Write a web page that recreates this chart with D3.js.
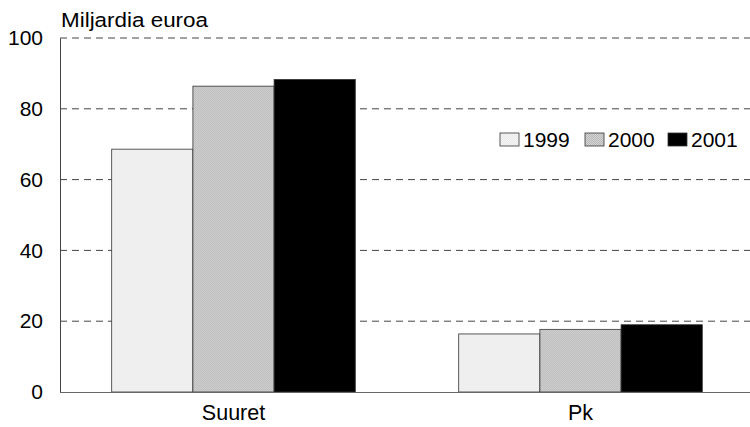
<!DOCTYPE html>
<html>
<head>
<meta charset="utf-8">
<script src="https://cdn.jsdelivr.net/npm/d3@7"></script>
<style>
  body { margin: 0; background: #fff; }
  svg { display: block; font-family: "Liberation Sans", Arial, sans-serif; }
</style>
</head>
<body>
<div id="chart"></div>
<script>
// Data
const groups = ["Suuret", "Pk"];
const years = ["1999", "2000", "2001"];
const values1999 = [68.6, 16.4];
const values2000 = [86.4, 17.7];
const values2001 = [88.3, 19.0];
const yTicks = [0, 20, 40, 60, 80, 100];
const unitLabel = "Miljardia euroa";

const seriesValues = [values1999, values2000, values2001];
const data = groups.map((g, i) => ({
  group: g,
  values: years.map((yr, j) => ({ year: yr, value: seriesValues[j][i] }))
}));

const width = 750, height = 427;
const margin = { top: 38, right: 0, bottom: 35, left: 60 };

const svg = d3.select("#chart")
  .append("svg")
  .attr("width", width)
  .attr("height", height);

// fill patterns for the textured bars
const defs = svg.append("defs");
function dotPattern(id, a, b) {
  const p = defs.append("pattern")
    .attr("id", id)
    .attr("width", 2)
    .attr("height", 2)
    .attr("patternUnits", "userSpaceOnUse");
  p.append("rect").attr("width", 2).attr("height", 2).attr("fill", a);
  p.append("rect").attr("width", 1).attr("height", 1).attr("fill", b);
  p.append("rect").attr("x", 1).attr("y", 1).attr("width", 1).attr("height", 1).attr("fill", b);
}
dotPattern("pat1999", "#f6f6f6", "#e8e8e8");
dotPattern("pat2000", "#d4d4d4", "#b8b8b8");

const color = d3.scaleOrdinal()
  .domain(years)
  .range(["url(#pat1999)", "url(#pat2000)", "#000"]);

const x0 = d3.scaleBand()
  .domain(groups)
  .range([margin.left, 754])
  .paddingInner(0.298)
  .paddingOuter(0.149);

const x1 = d3.scaleBand()
  .domain(years)
  .range([0, x0.bandwidth()]);

const y = d3.scaleLinear()
  .domain([0, 100])
  .range([height - margin.bottom, margin.top]);

// dashed gridlines
svg.append("g")
  .selectAll("line")
  .data(yTicks.filter((d) => d > 0))
  .join("line")
  .attr("x1", margin.left)
  .attr("x2", width)
  .attr("y1", (d) => y(d))
  .attr("y2", (d) => y(d))
  .attr("stroke", "#444")
  .attr("stroke-width", 1)
  .attr("stroke-dasharray", "7,5");

// bars
svg.append("g")
  .selectAll("g")
  .data(data)
  .join("g")
  .attr("transform", (d) => `translate(${x0(d.group)},0)`)
  .selectAll("rect")
  .data((d) => d.values)
  .join("rect")
  .attr("x", (d) => x1(d.year))
  .attr("y", (d) => y(d.value))
  .attr("width", x1.bandwidth())
  .attr("height", (d) => y(0) - y(d.value))
  .attr("fill", (d) => color(d.year))
  .attr("stroke", "#333")
  .attr("stroke-width", 0.8);

// y axis
const gY = svg.append("g")
  .attr("transform", `translate(${margin.left},0)`)
  .call(d3.axisLeft(y).tickValues(yTicks).tickSize(0).tickPadding(17));
gY.select(".domain").attr("stroke", "#444");
gY.selectAll("text")
  .attr("font-size", 21)
  .attr("fill", "#000")
  .attr("font-family", "Liberation Sans, Arial, sans-serif");

// x axis
const gX = svg.append("g")
  .attr("transform", `translate(0,${y(0)})`)
  .call(d3.axisBottom(x0).tickSize(0).tickPadding(13));
gX.select(".domain")
  .attr("d", `M${margin.left},0.5H${width}`)
  .attr("stroke", "#666");
gX.selectAll("text")
  .attr("font-size", 21.5)
  .attr("fill", "#000")
  .attr("font-family", "Liberation Sans, Arial, sans-serif");

// unit label
svg.append("text")
  .attr("transform", `translate(61,26.5) scale(1.15,1)`)
  .attr("font-size", 19.5)
  .attr("fill", "#000")
  .text(unitLabel);

// legend
const legend = svg.append("g").attr("transform", "translate(500,133)");
const legendStep = [0, 85, 168];
const item = legend.selectAll("g")
  .data(years)
  .join("g")
  .attr("transform", (d, i) => `translate(${legendStep[i]},0)`);
item.append("rect")
  .attr("width", 19)
  .attr("height", 13)
  .attr("fill", (d) => color(d))
  .attr("stroke", "#333")
  .attr("stroke-width", 0.8);
item.append("text")
  .attr("x", 23)
  .attr("y", 14)
  .attr("font-size", 21)
  .attr("fill", "#000")
  .text((d) => d);
</script>
</body>
</html>
